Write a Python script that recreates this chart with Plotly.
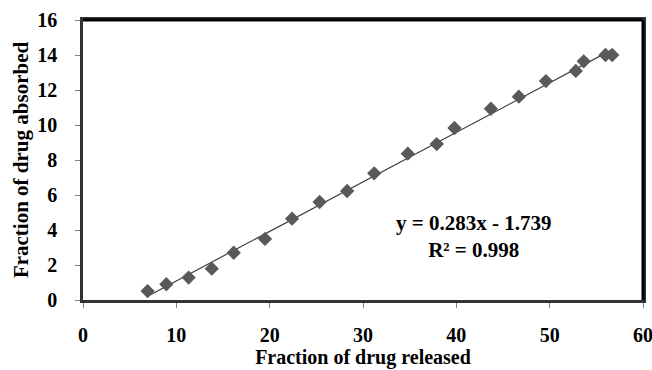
import plotly.graph_objects as go

released = [6.92, 8.93, 11.32, 13.8, 16.15, 19.5, 22.4, 25.35, 28.3, 31.2, 34.8, 37.9, 39.8, 43.7, 46.7, 49.6, 52.8, 53.65, 55.98, 56.7]
absorbed = [0.51, 0.90, 1.28, 1.79, 2.70, 3.49, 4.65, 5.60, 6.23, 7.24, 8.36, 8.91, 9.83, 10.93, 11.62, 12.51, 13.09, 13.64, 14.0, 14.0]
slope = 0.283
intercept = -1.739
equation_text = "y = 0.283x - 1.739<br>R² = 0.998"
x_ticks = [0, 10, 20, 30, 40, 50, 60]
y_ticks = [0, 2, 4, 6, 8, 10, 12, 14, 16]

fit_x = [min(released), max(released)]
fit_y = [slope * v + intercept for v in fit_x]

font_family = "Liberation Serif"

fig = go.Figure()
fig.add_trace(go.Scatter(x=fit_x, y=fit_y, mode="lines",
                         line=dict(color="#404040", width=1.2), showlegend=False))
fig.add_trace(go.Scatter(x=released, y=absorbed, mode="markers",
                         marker=dict(symbol="diamond", size=11, color="#595959"),
                         showlegend=False))

fig.add_annotation(x=41.8, y=3.65, text="<b>" + equation_text + "</b>", showarrow=False,
                   font=dict(family=font_family, size=21, color="black"), align="center")

# plot-area frame (top and right edges)
fig.add_shape(type="line", xref="paper", yref="paper", x0=0, y0=1, x1=1, y1=1,
              line=dict(color="black", width=3), layer="above")
fig.add_shape(type="line", xref="paper", yref="paper", x0=1, y0=0, x1=1, y1=1,
              line=dict(color="black", width=3), layer="above")

axis_common = dict(showgrid=False, zeroline=False, showline=True, linecolor="#333333",
                   linewidth=2.5, mirror=True, ticks="outside", ticklen=5, tickcolor="#808080",
                   automargin=False, ticklabeloverflow="allow",
                   tickfont=dict(family=font_family, size=20, color="black", weight="bold"))

fig.update_xaxes(range=[0, 60], tickvals=x_ticks, ticklabelstandoff=10,
                 title=dict(text="<b>Fraction of drug released</b>", standoff=6,
                            font=dict(family=font_family, size=20, color="black")),
                 **axis_common)
fig.update_yaxes(range=[0, 16], tickvals=y_ticks, ticklabelstandoff=14,
                 title=dict(text="<b>Fraction of drug absorbed</b>", standoff=3,
                            font=dict(family=font_family, size=21, color="black")),
                 **axis_common)

fig.update_layout(width=652, height=370, margin=dict(l=83, r=9, t=20, b=70),
                  plot_bgcolor="white", paper_bgcolor="white")

fig.write_html("out.html", config={"responsive": False, "displayModeBar": False},
               post_script="document.body.style.margin='0';document.body.style.padding='0';")
